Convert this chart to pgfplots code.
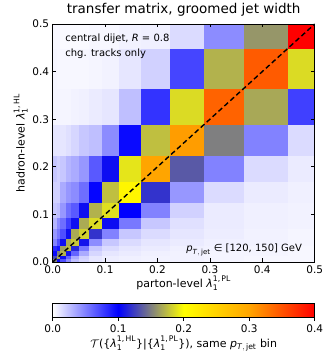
\documentclass[border=0pt]{standalone}
\usepackage{fontspec}
\setmainfont{DejaVu Sans}
\usepackage{amsmath}
\usepackage{pgfplots}
\pgfplotsset{compat=1.18}
\pgfplotsset{every axis/.append style={/pgf/number format/fixed, /pgf/number format/fixed zerofill, /pgf/number format/precision=1, /pgf/number format/assume math mode=true}}
\newcommand{\lam}[1]{$\text{\textit{λ}}_{\text{1}}^{\text{1,\,#1}}$}
\newcommand{\ptjet}{$\text{\textit{p}}_{\text{\textit{T}},\,\text{jet}}$}
\begin{document}
\begin{tikzpicture}
\path[use as bounding box] (0,0) rectangle (324pt,354pt);
\begin{axis}[
  at={(52.7pt,92pt)}, anchor=south west,
  scale only axis, width=262pt, height=238pt,
  xmin=0, xmax=0.5, ymin=0, ymax=0.5,
  xtick={0,0.1,0.2,0.3,0.4,0.5}, ytick={0,0.1,0.2,0.3,0.4,0.5},
  tick align=inside, major tick length=3.5pt,
  tick style={black, line width=0.6pt},
  axis line style={line width=0.7pt},
  tick label style={font=\fontsize{10.5}{12}\selectfont},
  label style={font=\fontsize{11}{13}\selectfont},
  title style={font=\fontsize{13.5}{16}\selectfont, yshift=-2pt},
  title={transfer matrix, groomed jet width},
  xlabel={parton-level \lam{PL}},
  ylabel={hadron-level \lam{HL}},
  xlabel style={yshift=4pt},
  ylabel style={yshift=-2pt},
  colormap={tm}{rgb255=(255,255,255) rgb255=(0,0,255) rgb255=(255,255,0) rgb255=(255,165,0) rgb255=(255,0,0)},
  point meta min=0, point meta max=0.4,
  colorbar horizontal,
  colorbar style={
    at={(parent axis.south west)}, anchor=north west, yshift=-33pt,
    scale only axis, width=262pt, height=14pt,
    xtick={0,0.1,0.2,0.3,0.4},
    xtick pos=bottom, tick align=outside, major tick length=3.5pt,
    tick style={black, line width=0.6pt},
    axis line style={line width=0.7pt},
    xticklabel style={font=\fontsize{10.5}{12}\selectfont},
    xlabel style={font=\fontsize{11}{13}\selectfont, yshift=3pt},
    xlabel={$\mathcal{T}$(\{\lam{HL}\}|\{\lam{PL}\}), same \ptjet{} bin},
  },
  axis on top,
]
\addplot[surf, shader=flat corner, mesh/cols=15, point meta=explicit] coordinates {
(0,0)[0.15] (0.008,0)[0.105] (0.015,0)[0.069] (0.025,0)[0.045] (0.036,0)[0.025] (0.051,0)[0.016] (0.07,0)[0.010] (0.094,0)[0.007] (0.126,0)[0.006] (0.169,0)[0.005] (0.224,0)[0.005] (0.29,0)[0.004] (0.365,0)[0.003] (0.45,0)[0.003] (0.5,0)[0]

(0,0.008)[0.13] (0.008,0.008)[0.165] (0.015,0.008)[0.105] (0.025,0.008)[0.061] (0.036,0.008)[0.033] (0.051,0.008)[0.018] (0.07,0.008)[0.010] (0.094,0.008)[0.007] (0.126,0.008)[0.006] (0.169,0.008)[0.005] (0.224,0.008)[0.005] (0.29,0.008)[0.004] (0.365,0.008)[0.003] (0.45,0.008)[0.003] (0.5,0.008)[0]

(0,0.015)[0.096] (0.008,0.015)[0.15] (0.015,0.015)[0.17] (0.025,0.015)[0.108] (0.036,0.015)[0.061] (0.051,0.015)[0.033] (0.07,0.015)[0.016] (0.094,0.015)[0.010] (0.126,0.015)[0.008] (0.169,0.015)[0.006] (0.224,0.015)[0.005] (0.29,0.015)[0.004] (0.365,0.015)[0.004] (0.45,0.015)[0.003] (0.5,0.015)[0]

(0,0.025)[0.084] (0.008,0.025)[0.092] (0.015,0.025)[0.163] (0.025,0.025)[0.175] (0.036,0.025)[0.115] (0.051,0.025)[0.053] (0.07,0.025)[0.022] (0.094,0.025)[0.014] (0.126,0.025)[0.010] (0.169,0.025)[0.008] (0.224,0.025)[0.006] (0.29,0.025)[0.005] (0.365,0.025)[0.004] (0.45,0.025)[0.003] (0.5,0.025)[0]

(0,0.036)[0.049] (0.008,0.036)[0.069] (0.015,0.036)[0.105] (0.025,0.036)[0.167] (0.036,0.036)[0.178] (0.051,0.036)[0.108] (0.07,0.036)[0.045] (0.094,0.036)[0.022] (0.126,0.036)[0.014] (0.169,0.036)[0.010] (0.224,0.036)[0.008] (0.29,0.036)[0.006] (0.365,0.036)[0.005] (0.45,0.036)[0.004] (0.5,0.036)[0]

(0,0.051)[0.041] (0.008,0.051)[0.053] (0.015,0.051)[0.069] (0.025,0.051)[0.106] (0.036,0.051)[0.167] (0.051,0.051)[0.182] (0.07,0.051)[0.12] (0.094,0.051)[0.049] (0.126,0.051)[0.022] (0.169,0.051)[0.014] (0.224,0.051)[0.010] (0.29,0.051)[0.007] (0.365,0.051)[0.005] (0.45,0.051)[0.004] (0.5,0.051)[0]

(0,0.07)[0.029] (0.008,0.07)[0.045] (0.015,0.07)[0.057] (0.025,0.07)[0.076] (0.036,0.07)[0.105] (0.051,0.07)[0.167] (0.07,0.07)[0.186] (0.094,0.07)[0.105] (0.126,0.07)[0.053] (0.169,0.07)[0.022] (0.224,0.07)[0.012] (0.29,0.07)[0.008] (0.365,0.07)[0.006] (0.45,0.07)[0.005] (0.5,0.07)[0]

(0,0.094)[0.022] (0.008,0.094)[0.025] (0.015,0.094)[0.041] (0.025,0.094)[0.057] (0.036,0.094)[0.065] (0.051,0.094)[0.105] (0.07,0.094)[0.17] (0.094,0.094)[0.188] (0.126,0.094)[0.10] (0.169,0.094)[0.049] (0.224,0.094)[0.018] (0.29,0.094)[0.008] (0.365,0.094)[0.006] (0.45,0.094)[0.005] (0.5,0.094)[0]

(0,0.126)[0.018] (0.008,0.126)[0.018] (0.015,0.126)[0.033] (0.025,0.126)[0.041] (0.036,0.126)[0.045] (0.051,0.126)[0.057] (0.07,0.126)[0.098] (0.094,0.126)[0.175] (0.126,0.126)[0.21] (0.169,0.126)[0.12] (0.224,0.126)[0.041] (0.29,0.126)[0.014] (0.365,0.126)[0.008] (0.45,0.126)[0.006] (0.5,0.126)[0]

(0,0.169)[0.022] (0.008,0.169)[0.018] (0.015,0.169)[0.022] (0.025,0.169)[0.029] (0.036,0.169)[0.033] (0.051,0.169)[0.041] (0.07,0.169)[0.065] (0.094,0.169)[0.105] (0.126,0.169)[0.19] (0.169,0.169)[0.30] (0.224,0.169)[0.135] (0.29,0.169)[0.049] (0.365,0.169)[0.014] (0.45,0.169)[0.008] (0.5,0.169)[0]

(0,0.224)[0.010] (0.008,0.224)[0.010] (0.015,0.224)[0.010] (0.025,0.224)[0.012] (0.036,0.224)[0.016] (0.051,0.224)[0.022] (0.07,0.224)[0.025] (0.094,0.224)[0.045] (0.126,0.224)[0.096] (0.169,0.224)[0.175] (0.224,0.224)[0.305] (0.29,0.224)[0.15] (0.365,0.224)[0.049] (0.45,0.224)[0.014] (0.5,0.224)[0]

(0,0.29)[0.004] (0.008,0.29)[0.004] (0.015,0.29)[0.004] (0.025,0.29)[0.004] (0.036,0.29)[0.005] (0.051,0.29)[0.006] (0.07,0.29)[0.008] (0.094,0.29)[0.010] (0.126,0.29)[0.025] (0.169,0.29)[0.08] (0.224,0.29)[0.186] (0.29,0.29)[0.34] (0.365,0.29)[0.166] (0.45,0.29)[0.075] (0.5,0.29)[0]

(0,0.365)[0.004] (0.008,0.365)[0.003] (0.015,0.365)[0.003] (0.025,0.365)[0.003] (0.036,0.365)[0.003] (0.051,0.365)[0.003] (0.07,0.365)[0.004] (0.094,0.365)[0.005] (0.126,0.365)[0.010] (0.169,0.365)[0.018] (0.224,0.365)[0.073] (0.29,0.365)[0.17] (0.365,0.365)[0.345] (0.45,0.365)[0.186] (0.5,0.365)[0]

(0,0.45)[0.003] (0.008,0.45)[0.003] (0.015,0.45)[0.002] (0.025,0.45)[0.002] (0.036,0.45)[0.002] (0.051,0.45)[0.002] (0.07,0.45)[0.003] (0.094,0.45)[0.003] (0.126,0.45)[0.005] (0.169,0.45)[0.006] (0.224,0.45)[0.014] (0.29,0.45)[0.045] (0.365,0.45)[0.159] (0.45,0.45)[0.40] (0.5,0.45)[0]

(0,0.5)[0] (0.008,0.5)[0] (0.015,0.5)[0] (0.025,0.5)[0] (0.036,0.5)[0] (0.051,0.5)[0] (0.07,0.5)[0] (0.094,0.5)[0] (0.126,0.5)[0] (0.169,0.5)[0] (0.224,0.5)[0] (0.29,0.5)[0] (0.365,0.5)[0] (0.45,0.5)[0] (0.5,0.5)[0]
};
\addplot[black, line width=1.4pt, dash pattern=on 5pt off 3pt] coordinates {(0,0) (0.5,0.5)};
\node[anchor=west, font=\fontsize{10}{12}\selectfont] at (rel axis cs:0.035,0.937) {central dijet, \textit{R} = 0.8};
\node[anchor=west, font=\fontsize{10}{12}\selectfont] at (rel axis cs:0.035,0.877) {chg. tracks only};
\node[anchor=east, font=\fontsize{10}{12}\selectfont] at (rel axis cs:0.965,0.05) {\ptjet{} ∈ [120, 150] GeV};
\end{axis}
\end{tikzpicture}
\end{document}
